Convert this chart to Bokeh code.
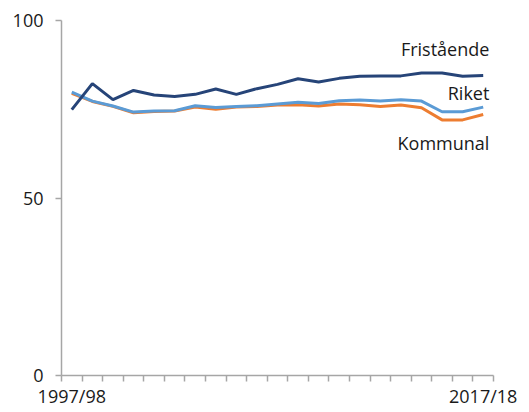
from bokeh.plotting import figure
from bokeh.models import FixedTicker, Range1d
from bokeh.core.properties import value
from bokeh.embed import file_html
from bokeh.resources import INLINE

years = ["1997/98", "1998/99", "1999/00", "2000/01", "2001/02", "2002/03", "2003/04",
         "2004/05", "2005/06", "2006/07", "2007/08", "2008/09", "2009/10", "2010/11",
         "2011/12", "2012/13", "2013/14", "2014/15", "2015/16", "2016/17", "2017/18"]
fristaende = [74.9, 82.2, 77.7, 80.3, 79.0, 78.6, 79.2, 80.7, 79.2, 80.8, 82.0,
              83.6, 82.7, 83.7, 84.3, 84.4, 84.4, 85.2, 85.2, 84.3, 84.5]
riket = [79.8, 77.3, 75.9, 74.2, 74.5, 74.6, 76.0, 75.5, 75.8, 76.0, 76.5,
         77.0, 76.6, 77.4, 77.6, 77.3, 77.7, 77.3, 74.3, 74.3, 75.6]
kommunal = [79.5, 77.2, 75.8, 74.0, 74.4, 74.5, 75.6, 75.0, 75.6, 75.8, 76.2,
            76.3, 75.9, 76.5, 76.3, 75.8, 76.2, 75.4, 72.0, 72.0, 73.5]
y_ticks = [0, 50, 100]
series_names = ["Fristående", "Riket", "Kommunal"]

x = [i + 0.5 for i in range(len(years))]

FONT = "Open Sans"
TXT = "#1a1a1a"
AX = "#a6a6a6"

p = figure(frame_width=432, frame_height=355, output_backend="svg",
           toolbar_location=None, x_range=Range1d(0, len(years)),
           y_range=Range1d(0, 100),
           min_border_left=61, min_border_top=20, min_border_right=30,
           min_border_bottom=0)
p.outline_line_color = None
p.grid.grid_line_color = None
p.background_fill_color = "white"
p.border_fill_color = "white"

p.line(x, kommunal, line_color="#ED7D31", line_width=3)
p.line(x, riket, line_color="#5B9BD5", line_width=3)
p.line(x, fristaende, line_color="#264478", line_width=3)

label_x = len(years) - 0.2
p.text([label_x] * 3, [92.0, 79.7, 65.5], text=series_names,
       text_align="right", text_baseline="middle",
       text_font=value(FONT), text_font_size="18px", text_color=TXT)

# x axis
xt = FixedTicker(ticks=[x[0], x[-1]], minor_ticks=list(range(len(years) + 1)))
p.xaxis.ticker = xt
p.xaxis.major_label_overrides = {x[0]: years[0], x[-1]: years[-1]}
p.xaxis.major_tick_line_color = None
p.xaxis.minor_tick_line_color = AX
p.xaxis.minor_tick_out = 6
p.xaxis.minor_tick_in = 0
p.xaxis.minor_tick_line_width = 1.5
p.xaxis.axis_line_color = AX
p.xaxis.axis_line_width = 1.5
p.xaxis.major_label_standoff = 2
p.xaxis.major_label_text_font = FONT
p.xaxis.major_label_text_font_size = "18px"
p.xaxis.major_label_text_color = TXT

# y axis
p.yaxis.ticker = FixedTicker(ticks=y_ticks, minor_ticks=[])
p.yaxis.major_tick_line_color = AX
p.yaxis.major_tick_line_width = 1.5
p.yaxis.major_tick_out = 6
p.yaxis.major_tick_in = 0
p.yaxis.minor_tick_line_color = None
p.yaxis.axis_line_color = AX
p.yaxis.axis_line_width = 1.5
p.yaxis.major_label_standoff = 12
p.yaxis.major_label_text_font = FONT
p.yaxis.major_label_text_font_size = "18px"
p.yaxis.major_label_text_color = TXT

open("out.html", "w").write(file_html(p, INLINE))
